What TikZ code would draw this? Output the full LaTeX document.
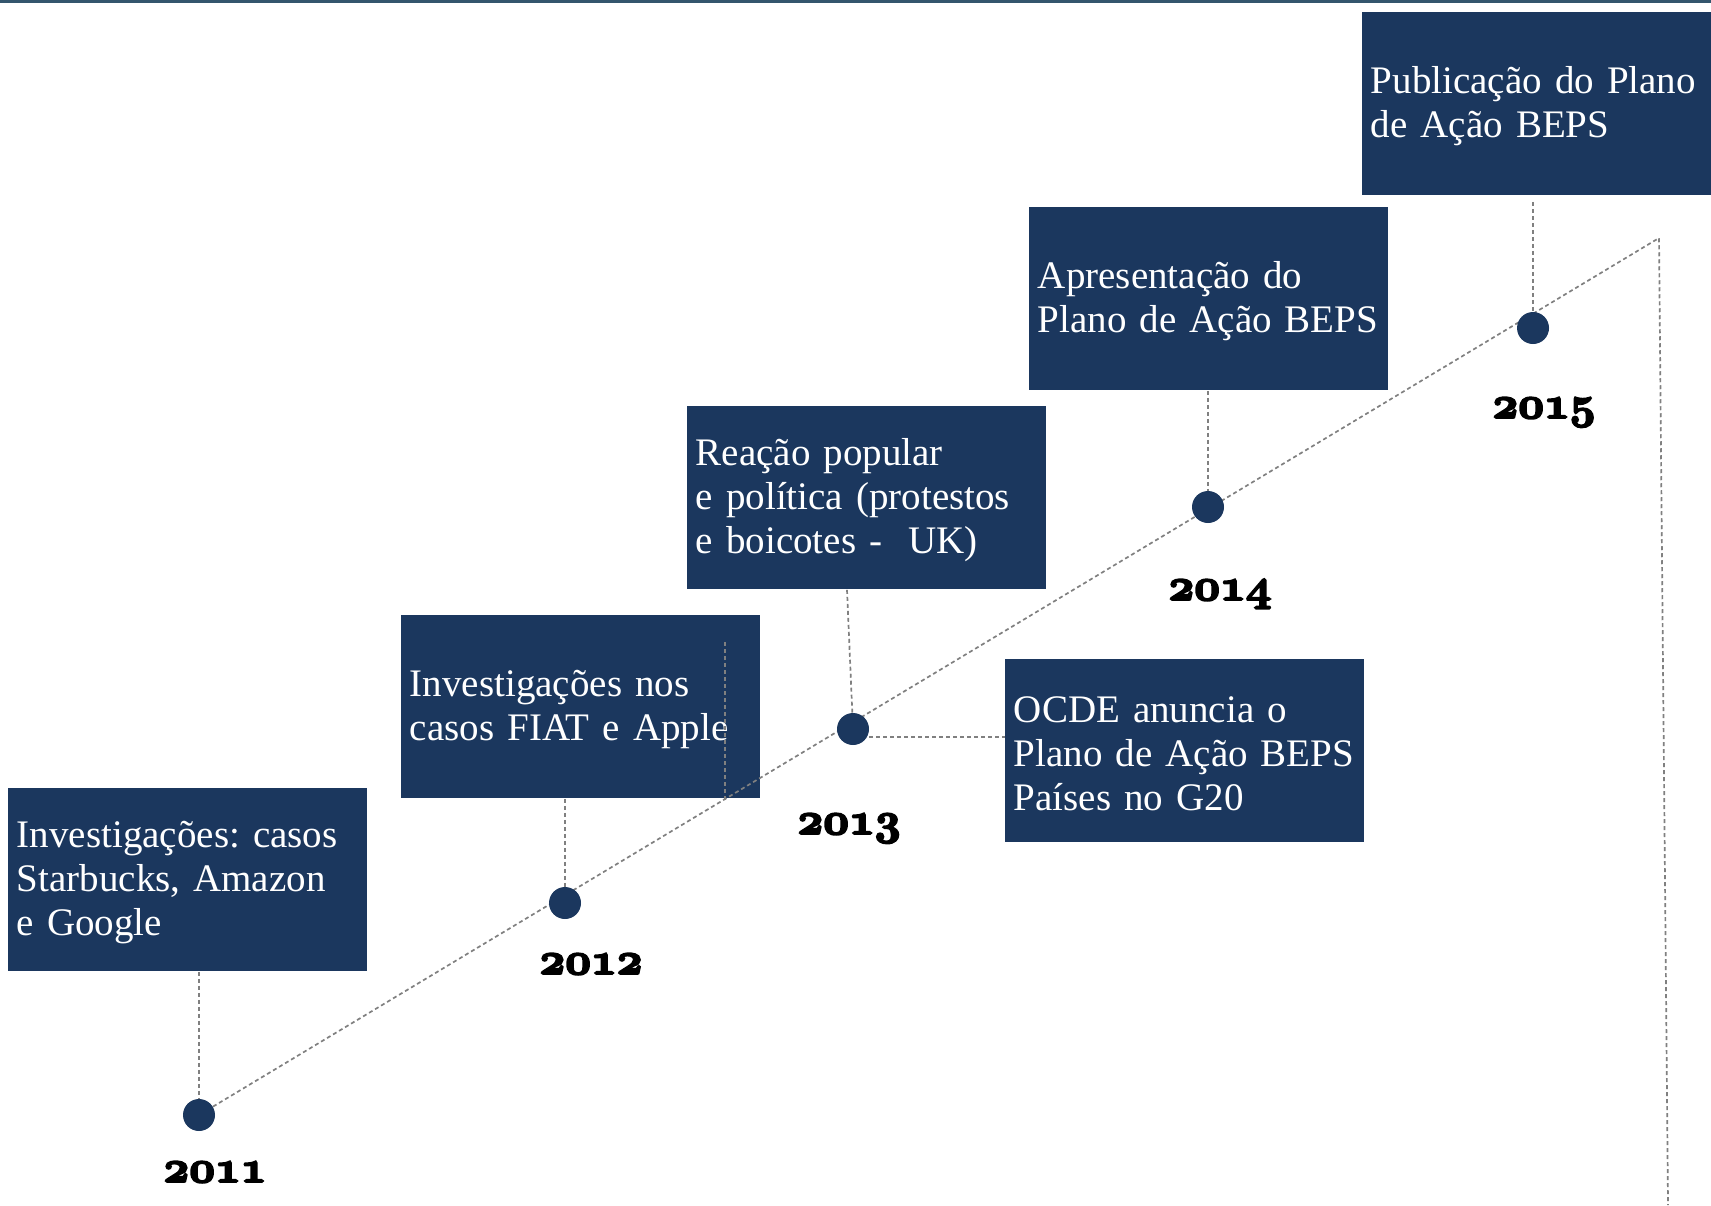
\documentclass[tikz,border=0pt]{standalone}
\usepackage{fontspec}
\usepackage{graphicx}
\setmainfont{Liberation Serif}
\definecolor{boxblue}{HTML}{1B375E}
\definecolor{dashgray}{HTML}{808080}
\definecolor{topband}{HTML}{34566D}
\newcommand\yearfont{\fontencoding{OML}\fontfamily{cmm}\fontseries{b}\fontshape{it}\fontsize{20.74}{20.74}\selectfont}
\newcommand\heavy[1]{\scalebox{1.08}{\special{pdf:literal direct 2 Tr 0.9 w}#1\special{pdf:literal direct 0 Tr}}}
\pgfdeclarelayer{back}
\pgfdeclarelayer{front}
\pgfsetlayers{back,main,front}
\begin{document}
\frenchspacing
\begin{tikzpicture}[x=0.5pt,y=-0.5pt,
  box/.style={fill=boxblue, text=white, anchor=north west, text width=171pt,
    inner xsep=4.25pt, inner ysep=0pt, minimum height=91.5pt, align=left,
    font=\fontsize{19.5}{22}\selectfont},
  dashline/.style={draw=dashgray, line width=0.85pt, dash pattern=on 2pt off 1.5pt},
  dot/.style={circle, fill=boxblue, minimum size=16pt, inner sep=0pt},
  year/.style={anchor=base, text=black, font=\yearfont, inner sep=0pt}]
\clip (0,0) rectangle (1711,1205);
\fill[topband] (0,0) rectangle (1711,3);

\begin{pgfonlayer}{back}
\node[box] (b11) at (8,788)    {\strut Investigações: casos\\Starbucks, Amazon\\e Google};
\node[box] (b12) at (401,615)  {\strut Investigações nos\\casos FIAT e Apple};
\node[box] (b13) at (687,406)  {\strut Reação popular\\e política (protestos\\e boicotes -\ \ UK)};
\node[box] (bO)  at (1005,659) {\strut OCDE anuncia o\\Plano de Ação BEPS\\Países no G20};
\node[box] (b14) at (1029,207) {\strut Apresentação do\\Plano de Ação BEPS};
\node[box] (b15) at (1362,12)  {\strut Publicação do Plano\\de Ação BEPS};
\end{pgfonlayer}

\begin{pgfonlayer}{front}
\node[dot] (d1) at (199,1115) {};
\node[dot] (d2) at (565,903)  {};
\node[dot] (d3) at (853,729)  {};
\node[dot] (d4) at (1208,507) {};
\node[dot] (d5) at (1533,328) {};
\end{pgfonlayer}

\coordinate (tip) at (1659,238);
\coordinate (bot) at (1668,1205);
\coordinate (inTop) at (725,642);
\coordinate (inBot) at (725,800);

\draw[dashline] (d1) -- (tip) -- (bot);
\draw[dashline] (b11.south -| d1) -- (d1);
\draw[dashline] (b12.south -| d2) -- (d2);
\draw[dashline] (b13.south -| d3) ++(-6,0) -- (d3);
\draw[dashline] ([yshift=-4pt]d3.east) -- ([yshift=-4pt]d3.east -| bO.west);
\draw[dashline] (b14.south -| d4) -- (d4);
\draw[dashline] ([yshift=-3pt]b15.south -| d5) -- (d5);
\draw[dashline] (inTop) -- (inBot);

\node[year] (y11) at (215,1182) {\heavy{2011}};
\node[year] (y12) at (591,974)  {\heavy{2012}};
\node[year] (y13) at (849,834)  {\heavy{2013}};
\node[year] (y14) at (1220,600) {\heavy{2014}};
\node[year] (y15) at (1544,418) {\heavy{2015}};
\end{tikzpicture}
\end{document}
